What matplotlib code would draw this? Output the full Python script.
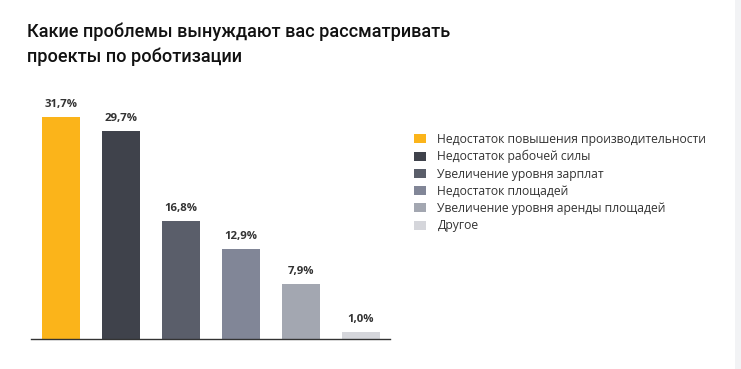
import matplotlib
matplotlib.use("Agg")
import matplotlib.pyplot as plt
from matplotlib.patches import Patch, Rectangle

plt.rcParams['font.family'] = ['Open Sans', 'DejaVu Sans']

categories = [
    "Недостаток повышения производительности",
    "Недостаток рабочей силы",
    "Увеличение уровня зарплат",
    "Недостаток площадей",
    "Увеличение уровня аренды площадей",
    "Другое",
]
values = [31.7, 29.7, 16.8, 12.9, 7.9, 1.0]
labels = ["31,7%", "29,7%", "16,8%", "12,9%", "7,9%", "1,0%"]
colors = ["#FBB41A", "#3F424B", "#5A5E6A", "#818697", "#A3A7B1", "#D5D6DB"]
title = "Какие проблемы вынуждают вас рассматривать\nпроекты по роботизации"

W, H = 741, 369
fig = plt.figure(figsize=(W / 100, H / 100), dpi=100)
fig.patch.set_facecolor("white")

# light side panel on the right edge
fig.patches.append(Rectangle((735 / W, 0), 6 / W, 1, transform=fig.transFigure,
                             facecolor="#F2F3F5", edgecolor="none", zorder=0))

ax = fig.add_axes([31 / W, (H - 339) / H, 359 / W, 245 / H])
x = list(range(len(values)))
ax.bar(x, values, width=38 / 60, color=colors, zorder=2)
ax.set_xlim(-0.5, 5.483)
ax.set_ylim(0, 35)
for s in ["top", "right", "left"]:
    ax.spines[s].set_visible(False)
ax.spines["bottom"].set_color("#333333")
ax.spines["bottom"].set_linewidth(1.0)
ax.set_xticks([])
ax.set_yticks([])
ax.patch.set_alpha(0)

for xi, v, lab in zip(x, values, labels):
    ax.annotate(lab, (xi, v), xytext=(0, 5), textcoords="offset points",
                ha="center", va="bottom", fontsize=8.2, fontweight="bold",
                color="#333333")

fig.text(27 / W, 1 - 62 / H, title, ha="left", va="baseline", fontsize=13.1,
         fontweight="medium", color="#111111", linespacing=1.45,
         family=["Roboto", "DejaVu Sans"])

handles = [Patch(facecolor=c, edgecolor="none") for c in colors]
leg = fig.legend(handles, categories, loc="upper left",
                 bbox_to_anchor=(409 / W, 1 - 128 / H), frameon=False,
                 fontsize=8.7, handlelength=1.0, handleheight=0.75,
                 handletextpad=0.95, labelspacing=0.35, borderaxespad=0)
for t in leg.get_texts():
    t.set_color("#333333")

fig.savefig("out.png", dpi=100, facecolor="white")
